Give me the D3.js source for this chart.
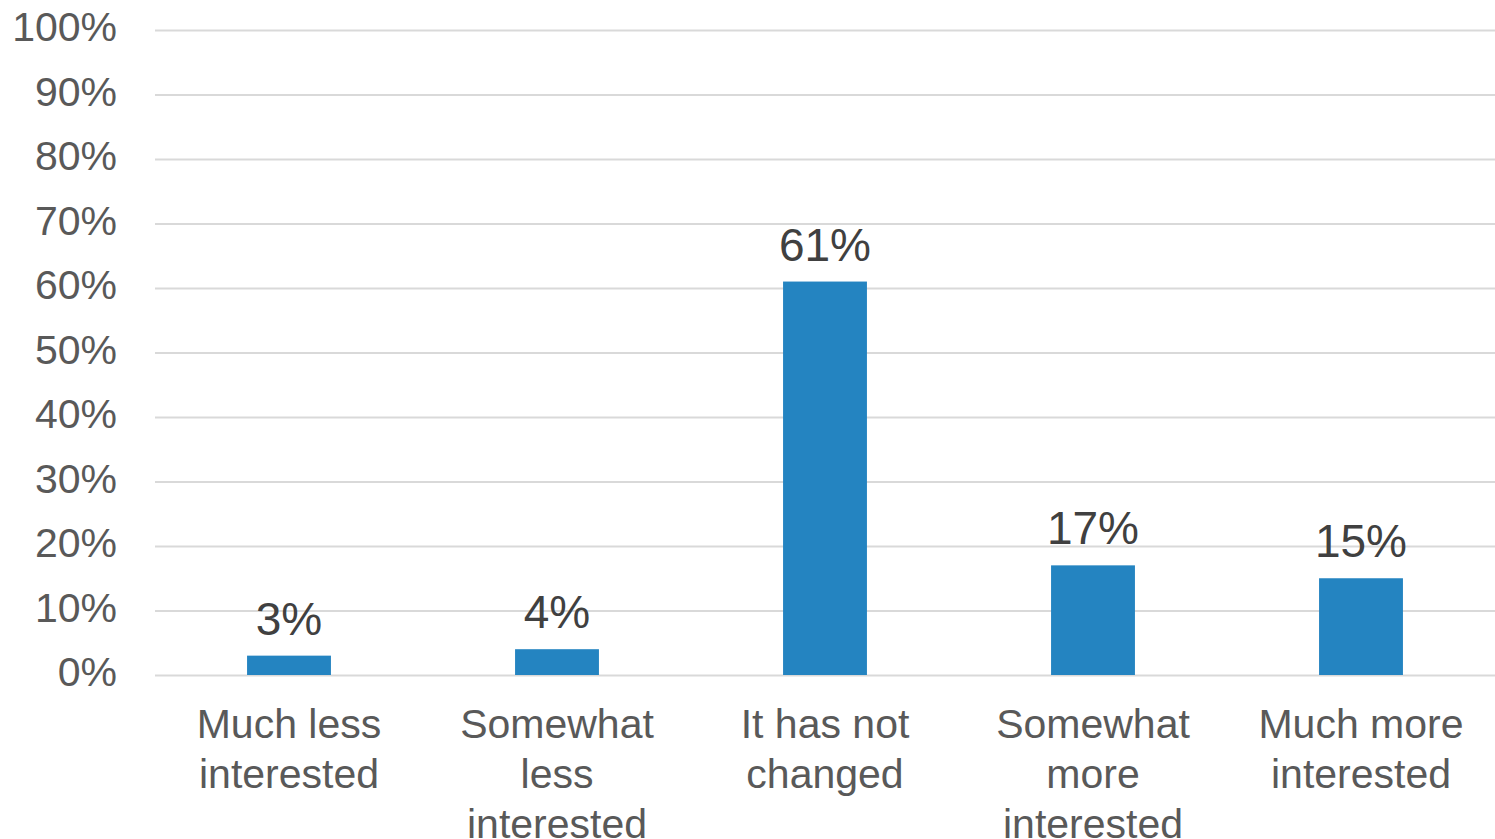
<!DOCTYPE html>
<html>
<head>
<meta charset="utf-8">
<script src="https://cdn.jsdelivr.net/npm/d3@7"></script>
<style>
html,body{margin:0;padding:0;background:#fff;}
svg{display:block;font-family:"Liberation Sans",Arial,sans-serif;}
</style>
</head>
<body>
<svg id="chart" width="1495" height="839"></svg>
<script>
const categories = ["Much less interested","Somewhat less interested","It has not changed","Somewhat more interested","Much more interested"];
const values = [3, 4, 61, 17, 15];
const yTicks = [0,10,20,30,40,50,60,70,80,90,100];

const W = 1495, H = 839;
const m = {left:155, right:0, top:30, bottom:164};
const svg = d3.select("#chart");

const x = d3.scaleBand().domain(categories).range([m.left, W - m.right]).paddingInner(0.687).paddingOuter(0.3435);
const y = d3.scaleLinear().domain([0,100]).range([H - m.bottom, m.top]);

// gridlines
const grid = svg.append("g")
  .attr("transform", `translate(${m.left},0)`)
  .call(d3.axisLeft(y).tickValues(yTicks).tickSize(-(W - m.left - m.right)).tickFormat(""));
grid.select(".domain").remove();
grid.selectAll("line").attr("stroke","#d9d9d9").attr("stroke-width",2);

// y labels
const yAxis = svg.append("g")
  .attr("transform", `translate(117,0)`)
  .call(d3.axisLeft(y).tickValues(yTicks).tickSize(0).tickPadding(0).tickFormat(d => d + "%"));
yAxis.select(".domain").remove();
yAxis.selectAll("text").attr("fill","#595959").attr("font-size","41px")
  .attr("font-family","'Liberation Sans',Arial,sans-serif").attr("dy","0.26em");

// bars
svg.append("g").selectAll("rect").data(values).join("rect")
  .attr("x", (d,i) => x(categories[i]))
  .attr("width", x.bandwidth())
  .attr("y", d => y(d))
  .attr("height", d => y(0) - y(d))
  .attr("fill", "#2484c1");

// value labels
svg.append("g").selectAll("text").data(values).join("text")
  .attr("x", (d,i) => x(categories[i]) + x.bandwidth()/2)
  .attr("y", d => y(d) - 21)
  .attr("text-anchor","middle")
  .attr("fill","#404040")
  .attr("font-size","46px")
  .text(d => d + "%");

// category labels with wrapping
const xAxis = svg.append("g")
  .attr("transform", `translate(0,${y(0)})`)
  .call(d3.axisBottom(x).tickSize(0).tickPadding(0));
xAxis.select(".domain").remove();
xAxis.selectAll("text").attr("fill","#595959").attr("font-size","41px")
  .attr("font-family","'Liberation Sans',Arial,sans-serif")
  .each(function(d){
    const t = d3.select(this);
    const words = d.split(" ");
    t.text(null);
    let lines = [], line = [];
    const tmp = t.append("tspan");
    words.forEach(w => {
      line.push(w);
      tmp.text(line.join(" "));
      if (tmp.node().getComputedTextLength() > 225 && line.length > 1) {
        line.pop();
        lines.push(line.join(" "));
        line = [w];
      }
    });
    lines.push(line.join(" "));
    tmp.remove();
    t.attr("y", 0).attr("dy", null);
    lines.forEach((l, i) => {
      t.append("tspan").attr("x", 0).attr("y", 63 + i*50).text(l);
    });
  });
</script>
</body>
</html>
